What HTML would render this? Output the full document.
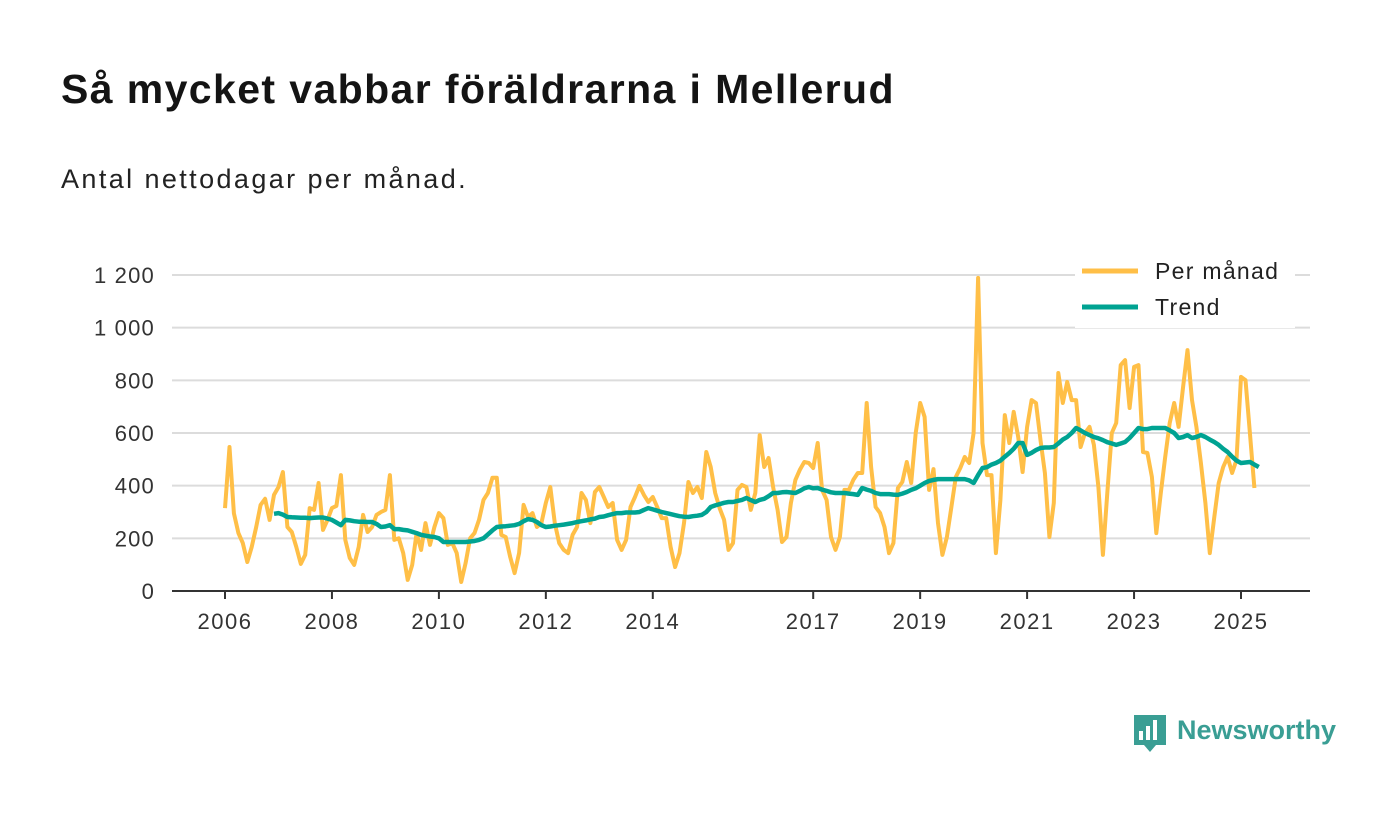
<!DOCTYPE html>
<html><head><meta charset="utf-8"><style>
html,body{margin:0;padding:0;background:#fff;}
body{width:1400px;height:813px;position:relative;overflow:hidden;font-family:"Liberation Sans",sans-serif;}
#title{position:absolute;left:61px;top:66px;font-size:41px;font-weight:bold;color:#141414;margin:0;letter-spacing:1.4px;}
#sub{position:absolute;left:61px;top:164px;font-size:27px;color:#222;letter-spacing:2.4px;}
svg{position:absolute;left:0;top:0;}
</style></head><body>
<h1 id="title">Så mycket vabbar föräldrarna i Mellerud</h1>
<div id="sub">Antal nettodagar per månad.</div>
<svg id="chart" width="1400" height="813"></svg>
<script>
const yTicks=[0,200,400,600,800,1000,1200];
const yTickLabels=["0","200","400","600","800","1 000","1 200"];
const xTickYears=[2006,2008,2010,2012,2014,2017,2019,2021,2023,2025];
const startYear=2006;
const perMonth=[
315,547,295,220,182,110,167,243,327,350,270,365,
395,452,243,224,167,103,137,315,308,410,232,270,
315,323,440,194,125,99,167,289,224,243,289,300,
308,440,194,200,144,42,99,220,156,258,175,243,
296,277,175,182,144,34,106,200,220,270,346,372,
430,430,213,205,129,68,144,327,281,296,243,258,
334,395,258,182,156,144,213,243,372,346,258,376,
395,357,319,334,194,156,194,319,357,399,365,338,
357,319,277,277,167,91,144,258,414,372,395,353,
528,471,372,315,270,156,182,384,403,395,308,372,
592,471,505,395,308,186,205,334,422,460,490,486,
467,562,384,346,205,156,205,384,384,422,448,448,
714,471,319,296,243,144,182,391,414,490,410,600,
714,661,384,463,258,137,205,319,433,467,509,486,
600,1189,562,440,440,144,346,668,562,680,585,452,
623,725,714,573,448,205,334,828,714,794,725,725,
547,600,623,555,395,137,372,600,638,858,877,695,
851,858,528,524,433,220,372,509,638,714,623,775,
915,725,623,486,334,144,281,410,471,509,448,498,
813,801,600,391];
const trendStartIndex=11;
const trend=[
293,296,290,281,280,279,278,278,277,278,279,279,
275,270,260,250,270,268,265,263,263,262,262,255,
243,245,250,235,235,232,230,225,220,213,210,207,
205,200,186,186,186,186,186,186,188,190,194,200,
215,230,243,245,246,248,250,255,265,273,270,262,
250,243,245,248,250,252,255,258,262,265,268,272,
275,281,283,288,292,296,296,298,298,298,300,308,
315,310,305,300,296,292,288,284,282,281,284,286,
289,300,319,325,330,335,338,338,342,346,353,345,
338,346,350,360,372,372,375,376,374,372,380,390,
395,390,391,385,380,375,372,372,372,370,368,365,
391,385,380,372,368,368,368,366,365,370,376,384,
390,400,410,418,422,425,425,425,425,425,425,425,
420,410,440,467,470,480,486,495,510,524,540,562,
562,517,525,535,543,545,545,547,560,575,585,600,
619,610,600,592,585,580,573,565,560,555,560,566,
581,600,619,615,615,619,619,619,619,610,600,581,
585,592,581,585,592,585,575,566,555,540,528,510,
495,486,488,490,480,471];

const NS="http://www.w3.org/2000/svg";
const svg=document.getElementById('chart');
const X0=225, PXY=(1241-225)/19, Y0=591, PXV=(591-275)/1200;
function xm(i){return X0+i*PXY/12;}
function xy(yr){return X0+(yr-startYear)*PXY;}
function yv(v){return Y0-v*PXV;}
function mk(tag,attrs){const e=document.createElementNS(NS,tag);for(const k in attrs)e.setAttribute(k,attrs[k]);svg.appendChild(e);return e;}

yTicks.forEach((t,i)=>{
  if(t>0){const g=mk('line',{x1:172,x2:1310,y1:yv(t),y2:yv(t),stroke:'#dcdcdc','stroke-width':2});
  
  }
  const l=mk('text',{x:155,y:yv(t)+8,'text-anchor':'end','font-size':22,'letter-spacing':1.2,fill:'#333','font-family':'Liberation Sans, sans-serif'});
  l.textContent=yTickLabels[i];
  
  
});
const ax=mk('line',{x1:172,x2:1310,y1:Y0,y2:Y0,stroke:'#333','stroke-width':2});


xTickYears.forEach(yr=>{
  const t=mk('line',{x1:xy(yr),x2:xy(yr),y1:Y0,y2:Y0+8,stroke:'#333','stroke-width':2});
  
  
  const l=mk('text',{x:xy(yr),y:629,'text-anchor':'middle','font-size':22,'letter-spacing':1.5,fill:'#333','font-family':'Liberation Sans, sans-serif'});
  l.textContent=yr;
  
  
});
const p1=mk('path',{d:perMonth.map((v,i)=>(i?'L':'M')+xm(i).toFixed(1)+','+yv(v).toFixed(1)).join(''),fill:'none',stroke:'#ffbf47','stroke-width':4,'stroke-linejoin':'round'});


const p2=mk('path',{d:trend.map((v,i)=>(i?'L':'M')+xm(i+trendStartIndex).toFixed(1)+','+yv(v).toFixed(1)).join(''),fill:'none',stroke:'#00a392','stroke-width':4.5,'stroke-linejoin':'round'});


const lb=mk('rect',{x:1075,y:253,width:220,height:75,fill:'#fff'});


[['Per månad','#ffbf47',271],['Trend','#00a392',307]].forEach(([n,c,y])=>{
  const l=mk('line',{x1:1082,x2:1138,y1:y,y2:y,stroke:c,'stroke-width':5});
  
  
  const t=mk('text',{x:1155,y:y+8,'font-size':23,'letter-spacing':1.3,fill:'#222','font-family':'Liberation Sans, sans-serif'});
  t.textContent=n;
  
  
});
</script>
<svg width="1400" height="813" style="position:absolute;left:0;top:0">
<path d="M1134 715h32v30h-10l-6 7-6-7h-10z" fill="#3a9e94"/>
<rect x="1139" y="731" width="4" height="9" fill="#fff"/><rect x="1146" y="726" width="4" height="14" fill="#fff"/><rect x="1153" y="720" width="4" height="20" fill="#fff"/>
<text x="1177" y="739" font-size="27" font-weight="bold" fill="#3a9e94" font-family="Liberation Sans, sans-serif">Newsworthy</text>
</svg>
</body></html>
